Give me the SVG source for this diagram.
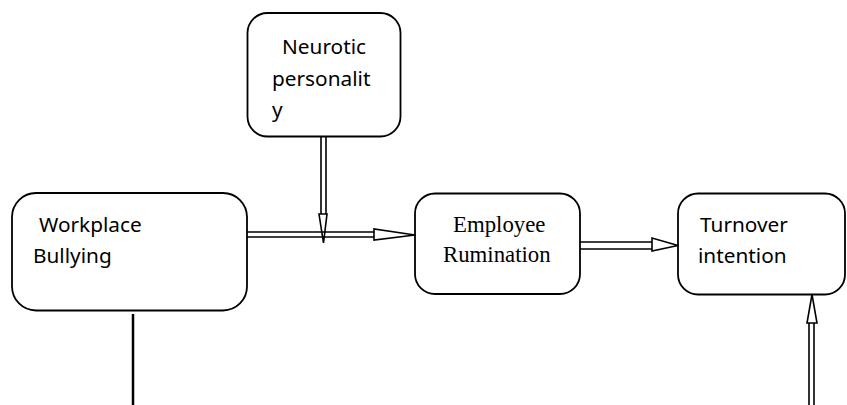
<svg xmlns="http://www.w3.org/2000/svg" width="847" height="405" viewBox="0 0 847 405">
<style>
.box{fill:#fff;stroke:#000;stroke-width:1.8}
.t{font-family:"Noto Sans","Open Sans","Liberation Sans",sans-serif;font-size:20.8px;fill:#000}
.s{font-family:"Liberation Serif","Times New Roman",serif;font-size:22.8px;fill:#000}
.ln{stroke:#000;stroke-width:1.6;fill:none}
.hd{stroke:#000;stroke-width:1.6;fill:#fff;stroke-linejoin:miter}
</style>
<rect width="847" height="405" fill="#fff"/>
<g id="neurotic">
<rect class="box" x="247.5" y="13" width="153" height="123.5" rx="20"/>
<text class="t" x="282" y="54">Neurotic</text>
<text class="t" x="272" y="86">personalit</text>
<text class="t" x="272" y="117">y</text>
</g>
<g id="bullying">
<rect class="box" x="12" y="193" width="235" height="117.5" rx="24"/>
<text class="t" x="39" y="232">Workplace</text>
<text class="t" x="33" y="263">Bullying</text>
</g>
<g id="rumination">
<rect class="box" x="415" y="193.5" width="165" height="100.5" rx="20"/>
<text class="s" x="453" y="232">Employee</text>
<text class="s" x="443" y="262">Rumination</text>
</g>
<g id="turnover">
<rect class="box" x="678" y="193.5" width="167" height="101" rx="20"/>
<text class="t" x="700" y="232">Turnover</text>
<text class="t" x="698" y="263">intention</text>
</g>
<g id="connectors">
<path class="ln" d="M321 137V214M326 137V214"/>
<path class="hd" d="M319 214L327 214L323.5 243Z"/>
<path class="ln" d="M247 232H374M247 237H374"/>
<path class="hd" d="M374 229L374 240L415 235Z"/>
<path class="ln" d="M580 242H652M580 249H652"/>
<path class="hd" d="M652 238L652 251L678 245.5Z"/>
<path class="ln" d="M809 323V405M814 323V405"/>
<path class="hd" d="M807 323L817 323L812 294.5Z"/>
<line x1="133" y1="314" x2="133" y2="405" stroke="#000" stroke-width="2.5"/>
</g>
</svg>
